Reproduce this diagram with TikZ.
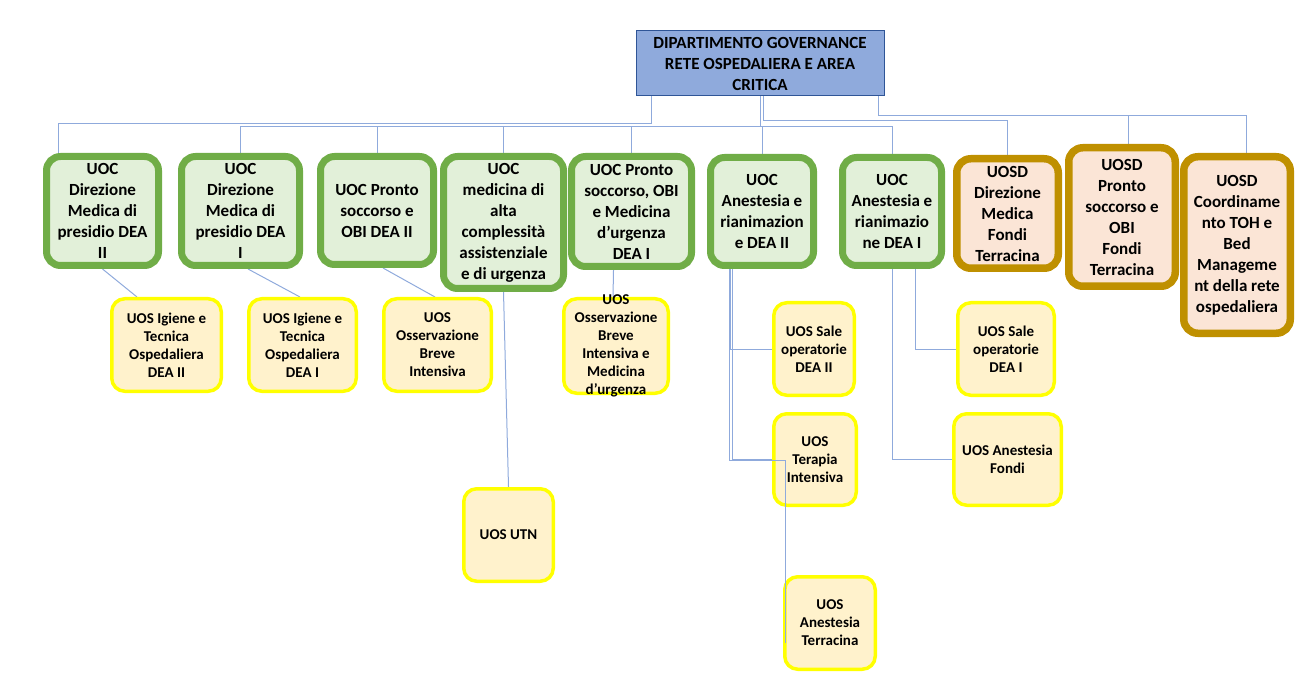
\documentclass[tikz,border=0pt]{standalone}
\usepackage{fontspec}
\setmainfont{Carlito}
\usepackage{tikz}
\usetikzlibrary{backgrounds}
\definecolor{linkblue}{HTML}{8FAADC}
\definecolor{deptborder}{HTML}{2F5597}
\definecolor{uocgreen}{HTML}{70AD47}
\definecolor{uocfill}{HTML}{E2F0D9}
\definecolor{uosdgold}{HTML}{BF9000}
\definecolor{uosdfill}{HTML}{FBE5D6}
\definecolor{uosyellow}{HTML}{FFFF00}
\definecolor{uosfill}{HTML}{FFF2CC}
\tikzstyle{lnk} = [draw=linkblue, line width=1pt]
\tikzstyle{bigtxt} = [align=center, inner sep=0pt, font=\bfseries\fontsize{17}{21}\selectfont]
\tikzstyle{smalltxt} = [align=center, inner sep=0pt, font=\bfseries\fontsize{15}{18}\selectfont]
\tikzstyle{dept} = [bigtxt, draw=deptborder, fill=linkblue, line width=1pt]
\tikzstyle{uoc} = [bigtxt, draw=uocgreen, fill=uocfill, line width=7pt, rounded corners=14pt]
\tikzstyle{uosd} = [bigtxt, draw=uosdgold, fill=uosdfill, line width=7.5pt, rounded corners=14pt]
\tikzstyle{uos} = [smalltxt, draw=uosyellow, fill=uosfill, line width=3.5pt, rounded corners=13pt]

\begin{document}
\begin{tikzpicture}[x=1pt,y=-1pt]
	\useasboundingbox (0,0) rectangle (1300,684);
	\node[dept, minimum width=248, minimum height=65] (dep) at (760,63.5) {DIPARTIMENTO GOVERNANCE\\RETE OSPEDALIERA E AREA\\CRITICA};
	% UOC
	\node[uoc, minimum width=112, minimum height=109] (g1) at (102.5,211) {UOC\\Direzione\\Medica di\\presidio DEA\\II};
	\node[uoc, minimum width=118, minimum height=109] (g2) at (240.5,211) {UOC\\Direzione\\Medica di\\presidio DEA\\I};
	\node[uoc, minimum width=113, minimum height=108] (g3) at (377,210.5) {UOC Pronto\\soccorso e\\OBI DEA II};
	\node[uoc, minimum width=120, minimum height=132] (g4) at (503.5,222.5) {UOC\\medicina di\\alta\\complessità\\assistenziale\\e di urgenza};
	\node[uoc, minimum width=120, minimum height=110] (g5) at (631.5,211.5) {UOC Pronto\\soccorso, OBI\\e Medicina\\d’urgenza\\DEA I};
	\node[uoc, minimum width=103, minimum height=108] (g6) at (762,211.5) {UOC\\Anestesia e\\rianimazion\\e DEA II};
	\node[uoc, minimum width=99, minimum height=108] (g7) at (892,211.5) {UOC\\Anestesia e\\rianimazio\\ne DEA I};
	% UOSD
	\node[uosd, minimum width=101.5, minimum height=109.5] (d1) at (1007.5,213.5) {UOSD\\Direzione\\Medica\\Fondi\\Terracina};
	\node[uosd, minimum width=106.5, minimum height=138.5] (d2) at (1122,217) {UOSD\\Pronto\\soccorso e\\OBI\\Fondi\\Terracina};
	\node[uosd, minimum width=106.5, minimum height=176.5] (d3) at (1237,245) {UOSD\\Coordiname\\nto TOH e\\Bed\\Manageme\\nt della rete\\ospedaliera};
	% UOS
	\node[uos, minimum width=109.5, minimum height=92.5] (y1) at (166.5,345) {UOS Igiene e\\Tecnica\\Ospedaliera\\DEA II};
	\node[uos, minimum width=107.5, minimum height=92.5] (y2) at (302.5,345) {UOS Igiene e\\Tecnica\\Ospedaliera\\DEA I};
	\node[uos, minimum width=107.5, minimum height=92.5] (y3) at (437.5,345) {UOS\\Osservazione\\Breve\\Intensiva};
	\node[uos, minimum width=104.5, minimum height=94.5] (y5) at (616,346) {};
	\node[smalltxt] (y5t) at (y5.center) {UOS\\Osservazione\\Breve\\Intensiva e\\Medicina\\d’urgenza};
	\node[uos, minimum width=89.5, minimum height=92.5] (utn) at (508.5,535) {UOS UTN};
	\node[uos, minimum width=80.5, minimum height=92.5] (sd2) at (814,349) {UOS Sale\\operatorie\\DEA II};
	\node[uos, minimum width=82.5, minimum height=91.5] (ti) at (815,459.5) {UOS\\Terapia\\Intensiva};
	\node[uos, minimum width=90.5, minimum height=92.5] (at) at (830,623) {UOS\\Anestesia\\Terracina};
	\node[uos, minimum width=96.5, minimum height=92.5] (sd1) at (1006,349) {UOS Sale\\operatorie\\DEA I};
	\node[uos, minimum width=107.5, minimum height=91.5] (af) at (1007.5,459.5) {UOS Anestesia\\Fondi};
	\begin{scope}[on background layer]
		\draw[lnk] ([xshift=-109]dep.south) -- ++(0,27) -| ([xshift=-44]g1.north);
		\draw[lnk] (dep.south) -- ++(0,30) coordinate (hub);
		\foreach \n in {g2,g3,g4,g5,g6,g7}
			\draw[lnk] (hub) -| (\n.north);
		\draw[lnk] ([xshift=3]dep.south) -- ++(0,24) -| (d1.north);
		\draw[lnk] ([xshift=118]dep.south) -- ++(0,19) coordinate (hubr) -| ([xshift=6]d2.north);
		\draw[lnk] (hubr) -| ([xshift=9]d3.north);
		\draw[lnk] (g1.south) -- ([xshift=-29.5]y1.north);
		\draw[lnk] ([xshift=7.5]g2.south) -- ([xshift=-2.5]y2.north);
		\draw[lnk] ([xshift=6]g3.south) -- ([xshift=-2.5]y3.north);
		\draw[lnk] (g4.south) -- (utn.north);
		\draw[lnk] ([xshift=-18]g5.south) -- ([xshift=-3]y5.north);
		\draw[lnk] ([xshift=-32]g6.south) |- (sd2.west);
		\draw[lnk] ([xshift=-30]g6.south) |- (ti.west);
		\draw[lnk] ([xshift=23]g7.south) |- (sd1.west);
		\draw[lnk] (g7.south) |- (af.west);
	\end{scope}
	\draw[lnk] ([xshift=-33]g6.south) |- ([xshift=13,yshift=-1]ti.west) -- ([xshift=2,yshift=-20]at.west);
\end{tikzpicture}
\end{document}
